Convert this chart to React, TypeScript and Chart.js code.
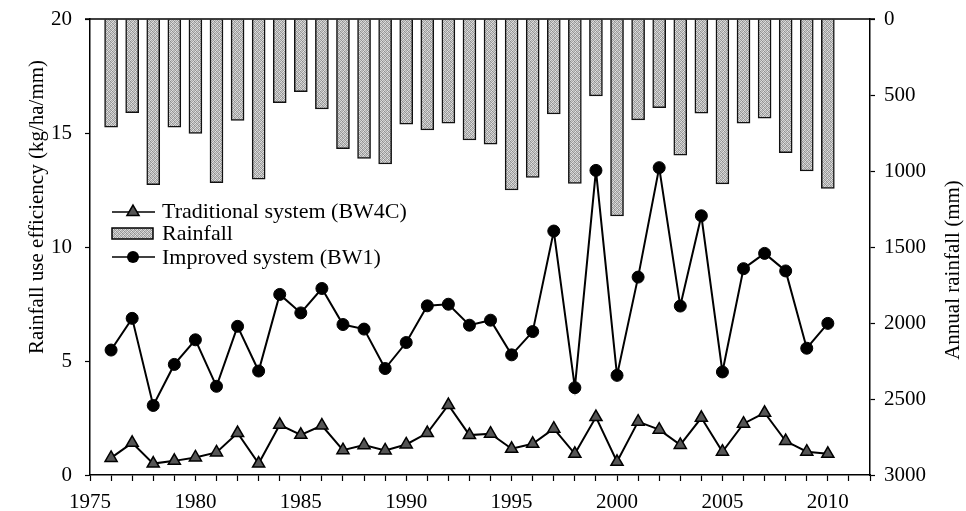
import React, { useEffect, useRef } from "react";
import { Chart, registerables } from "chart.js";

Chart.register(...registerables);

const years = [1976, 1977, 1978, 1979, 1980, 1981, 1982, 1983, 1984, 1985, 1986, 1987, 1988, 1989, 1990, 1991, 1992, 1993, 1994, 1995, 1996, 1997, 1998, 1999, 2000, 2001, 2002, 2003, 2004, 2005, 2006, 2007, 2008, 2009, 2010];
const rainfall = [712, 616, 1090, 712, 752, 1076, 668, 1054, 550, 478, 592, 853, 918, 954, 692, 730, 686, 796, 824, 1125, 1043, 625, 1081, 506, 1296, 664, 583, 896, 620, 1085, 686, 653, 879, 1000, 1114];
const traditional = [0.75, 1.41, 0.5, 0.62, 0.77, 0.99, 1.84, 0.5, 2.2, 1.76, 2.17, 1.09, 1.31, 1.08, 1.34, 1.84, 3.07, 1.75, 1.81, 1.15, 1.37, 2.03, 0.93, 2.54, 0.58, 2.34, 1.99, 1.32, 2.51, 1.02, 2.25, 2.73, 1.49, 1.02, 0.93];
const improved = [5.48, 6.87, 3.05, 4.85, 5.93, 3.89, 6.52, 4.56, 7.92, 7.11, 8.18, 6.6, 6.4, 4.67, 5.81, 7.42, 7.49, 6.57, 6.79, 5.27, 6.29, 10.7, 3.83, 13.36, 4.37, 8.68, 13.48, 7.41, 11.37, 4.52, 9.05, 9.72, 8.95, 5.56, 6.65];
const xLabelYears = [1975, 1980, 1985, 1990, 1995, 2000, 2005, 2010];
const leftTicks = [0, 5, 10, 15, 20];
const rightTicks = [0, 500, 1000, 1500, 2000, 2500, 3000];

const FONT = '"Liberation Serif", "Times New Roman", serif';

function makePattern(): CanvasPattern | string {
  const c = document.createElement("canvas");
  c.width = 4;
  c.height = 4;
  const g = c.getContext("2d");
  if (!g) return "#bbbbbb";
  const shades = [
    [205, 150, 215, 170],
    [165, 225, 140, 205],
    [220, 175, 195, 150],
    [145, 200, 165, 230],
  ];
  for (let r = 0; r < 4; r++) {
    for (let q = 0; q < 4; q++) {
      const s = shades[r][q];
      g.fillStyle = `rgb(${s},${s},${s})`;
      g.fillRect(q, r, 1, 1);
    }
  }
  const p = g.createPattern(c, "repeat");
  return p || "#bbbbbb";
}

function drawTriangle(ctx: CanvasRenderingContext2D, x: number, y: number, r: number) {
  ctx.beginPath();
  let rad = 0;
  ctx.moveTo(x + Math.sin(rad) * r, y - Math.cos(rad) * r);
  rad += (2 * Math.PI) / 3;
  ctx.lineTo(x + Math.sin(rad) * r, y - Math.cos(rad) * r);
  rad += (2 * Math.PI) / 3;
  ctx.lineTo(x + Math.sin(rad) * r, y - Math.cos(rad) * r);
  ctx.closePath();
}

export default function App() {
  const ref = useRef<HTMLCanvasElement | null>(null);

  useEffect(() => {
    if (!ref.current) return;
    const pattern = makePattern();

    const overlay = {
      id: "overlay",
      afterDraw(chart: any) {
        const ctx: CanvasRenderingContext2D = chart.ctx;
        const a = chart.chartArea;
        ctx.save();
        // top frame line
        ctx.strokeStyle = "#000";
        ctx.lineWidth = 1.5;
        ctx.beginPath();
        ctx.moveTo(a.left - 5, a.top);
        ctx.lineTo(a.right + 5, a.top);
        ctx.stroke();

        // legend
        ctx.font = `22px ${FONT}`;
        ctx.fillStyle = "#000";
        ctx.textBaseline = "middle";
        ctx.textAlign = "left";
        const lx0 = 112, lx1 = 155, mx = 133, tx = 162;
        ctx.lineWidth = 1.5;
        ctx.beginPath();
        ctx.moveTo(lx0, 212);
        ctx.lineTo(lx1, 212);
        ctx.stroke();
        drawTriangle(ctx, mx, 212, 7);
        ctx.fillStyle = "#555";
        ctx.fill();
        ctx.stroke();
        ctx.fillStyle = "#000";
        ctx.fillText("Traditional system (BW4C)", tx, 212);
        ctx.fillStyle = pattern as any;
        ctx.fillRect(112, 228, 41, 11);
        ctx.strokeRect(112, 228, 41, 11);
        ctx.fillStyle = "#000";
        ctx.fillText("Rainfall", tx, 234);
        ctx.beginPath();
        ctx.moveTo(lx0, 257);
        ctx.lineTo(lx1, 257);
        ctx.stroke();
        ctx.beginPath();
        ctx.arc(mx, 257, 6, 0, Math.PI * 2);
        ctx.fill();
        ctx.fillText("Improved system (BW1)", tx, 258);

        // axis titles
        ctx.font = `21px ${FONT}`;
        ctx.textAlign = "center";
        ctx.save();
        ctx.translate(37, 207);
        ctx.rotate(-Math.PI / 2);
        ctx.fillText("Rainfall use efficiency (kg/ha/mm)", 0, 0);
        ctx.restore();
        ctx.save();
        ctx.translate(953, 270);
        ctx.rotate(-Math.PI / 2);
        ctx.fillText("Annual rainfall (mm)", 0, 0);
        ctx.restore();
        ctx.restore();
      },
    };

    const tickFont = { family: FONT, size: 21 };

    const chart = new Chart(ref.current, {
      type: "bar",
      data: {
        datasets: [
          {
            type: "line",
            label: "Traditional system (BW4C)",
            data: years.map((y, i) => ({ x: y, y: traditional[i] })),
            xAxisID: "x",
            yAxisID: "yL",
            borderColor: "#000",
            borderWidth: 2,
            pointStyle: "triangle",
            pointRadius: 7,
            pointBackgroundColor: "#555",
            pointBorderColor: "#000",
            pointBorderWidth: 1.5,
            tension: 0,
            order: 1,
          } as any,
          {
            type: "line",
            label: "Improved system (BW1)",
            data: years.map((y, i) => ({ x: y, y: improved[i] })),
            xAxisID: "x",
            yAxisID: "yL",
            borderColor: "#000",
            borderWidth: 2,
            pointStyle: "circle",
            pointRadius: 6,
            pointBackgroundColor: "#000",
            pointBorderColor: "#000",
            pointBorderWidth: 1,
            tension: 0,
            order: 2,
          } as any,
          {
            type: "bar",
            label: "Rainfall",
            data: years.map((y, i) => ({ x: y, y: rainfall[i] })),
            xAxisID: "x",
            yAxisID: "yR",
            backgroundColor: pattern as any,
            borderColor: "#111",
            borderWidth: 1.5,
            barThickness: 13,
            order: 3,
          } as any,
        ],
      },
      options: {
        responsive: false,
        animation: false,
        devicePixelRatio: 1,
        layout: { padding: { top: 19, left: 0, right: 0, bottom: 0 } },
        plugins: {
          legend: { display: false },
          tooltip: { enabled: false },
        },
        scales: {
          x: {
            type: "linear",
            position: "bottom",
            min: 1975,
            max: 2012,
            offset: false,
            grid: {
              offset: false,
              drawOnChartArea: false,
              drawTicks: true,
              tickLength: 6,
              tickColor: "#000",
              tickWidth: 1.2,
            },
            border: { display: true, color: "#000", width: 1.5 },
            ticks: {
              stepSize: 1,
              autoSkip: false,
              maxRotation: 0,
              minRotation: 0,
              padding: 9,
              color: "#000",
              font: tickFont,
              callback: (v: any) => (xLabelYears.includes(Number(v)) ? String(v) : ""),
            },
            afterFit: (s: any) => {
              s.height = 36;
              s.paddingLeft = 0;
              s.paddingRight = 0;
            },
          },
          yL: {
            type: "linear",
            position: "left",
            min: 0,
            max: 20,
            grid: {
              drawOnChartArea: false,
              drawTicks: true,
              tickLength: 5,
              tickColor: "#000",
              tickWidth: 1.2,
            },
            border: { display: true, color: "#000", width: 1.5 },
            afterBuildTicks: (s: any) => {
              s.ticks = leftTicks.map((v) => ({ value: v }));
            },
            ticks: {
              padding: 13,
              color: "#000",
              font: tickFont,
              callback: (v: any) => String(v),
            },
            afterFit: (s: any) => {
              s.width = 90;
              s.paddingTop = 0;
              s.paddingBottom = 0;
            },
          },
          yR: {
            type: "linear",
            position: "right",
            reverse: true,
            min: 0,
            max: 3000,
            grid: {
              drawOnChartArea: false,
              drawTicks: true,
              tickLength: 5,
              tickColor: "#000",
              tickWidth: 1.2,
            },
            border: { display: true, color: "#000", width: 1.5 },
            afterBuildTicks: (s: any) => {
              s.ticks = rightTicks.map((v) => ({ value: v }));
            },
            ticks: {
              padding: 9,
              color: "#000",
              font: tickFont,
              callback: (v: any) => String(v),
            },
            afterFit: (s: any) => {
              s.width = 96;
              s.paddingTop = 0;
              s.paddingBottom = 0;
            },
          },
        },
      } as any,
      plugins: [overlay],
    });

    return () => {
      chart.destroy();
    };
  }, []);

  return (
    <div style={{ position: "fixed", left: 0, top: 0, width: 966, height: 511, background: "#fff" }}>
      <canvas ref={ref} width={966} height={511} style={{ display: "block", width: 966, height: 511 }} />
    </div>
  );
}
